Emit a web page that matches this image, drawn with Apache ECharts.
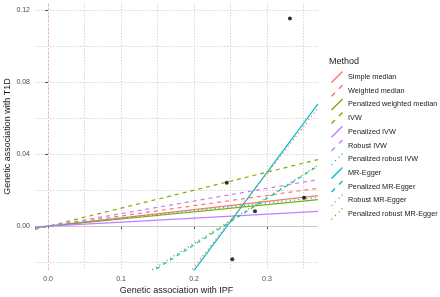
<!DOCTYPE html>
<html>
<head>
<meta charset="utf-8">
<script src="https://cdn.jsdelivr.net/npm/echarts@6/dist/echarts.min.js"></script>
<style>
  html, body { margin: 0; padding: 0; background: #fff; }
</style>
</head>
<body>
<div id="mr" style="width:440px;height:297px;"></div>
<script>
  // methods, line parameters (y = intercept + slope * x)
  var methods = ['Simple median', 'Weighted median', 'Penalized weighted median', 'IVW',
    'Penalized IVW', 'Robust IVW', 'Penalized robust IVW', 'MR-Egger',
    'Penalized MR-Egger', 'Robust MR-Egger', 'Penalized robust MR-Egger']
  var slopes = [0.046, 0.057, 0.040, 0.100, 0.0224, 0.070, 0.043, 0.544, 0.258, 0.520, 0.255]
  var intercepts = [0, 0, 0, 0, 0, 0, 0, -0.1334, -0.062, -0.1268, -0.0605]
  var colors = ['#F8766D', '#F8766D', '#7CAE00', '#7CAE00', '#C77CFF', '#C77CFF', '#00BFC4',
    '#00BFC4', '#00BFC4', '#F8766D', '#7CAE00']
  var styles = ['solid', 'dashed', 'solid', 'dashed', 'solid', 'dashed', 'dotted',
    'solid', 'dashed', 'dotted', 'dotted']

  // SNP associations
  var snpX = [0.3315, 0.245, 0.2836, 0.351, 0.2525]
  var snpY = [0.1153, 0.0241, 0.0083, 0.0158, -0.0184]

  // axes
  var xMin = -0.018, xMax = 0.37
  var yMin = -0.0243, yMax = 0.1239
  var xTicks = [0, 0.1, 0.2, 0.3]
  var xMinor = [0.05, 0.15, 0.25, 0.35]
  var yTicks = [0, 0.04, 0.08, 0.12]
  var yMinor = [-0.02, 0.02, 0.06, 0.10]

  var icons = {
    solid: 'path://M0,11 L11,0 L12,1 L1,12 Z',
    dashed: 'path://M0,11 L3.5,7.5 L4.5,8.5 L1,12 Z M7.5,3.5 L11,0 L12,1 L8.5,4.5 Z',
    dotted: 'path://M0,11 L0.8,10.2 L1.8,11.2 L1,12 Z M3.6,7.4 L4.4,6.6 L5.4,7.6 L4.6,8.4 Z M7.2,3.8 L8,3 L9,4 L8.2,4.8 Z M10.2,0.8 L11,0 L12,1 L11.2,1.8 Z'
  }

  var grid = '#d6d6d6'
  var series = []
  for (let i = 0; i < methods.length; i++) {
    series.push({
      name: methods[i],
      type: 'line',
      clip: true,
      symbol: 'none',
      silent: true,
      color: colors[i],
      lineStyle: { width: 1.2, type: styles[i] === 'dashed' ? [4, 4] : (styles[i] === 'dotted' ? [1.2, 3] : 'solid') },
      data: [[xMin, intercepts[i] + slopes[i] * xMin], [xMax, intercepts[i] + slopes[i] * xMax]]
    })
  }
  var pts = []
  for (let i = 0; i < snpX.length; i++) pts.push([snpX[i], snpY[i]])
  series.unshift({
    name: 'SNP',
    type: 'scatter',
    symbolSize: 4,
    itemStyle: { color: '#000' },
    silent: true,
    z: 5,
    data: pts,
    markLine: {
      silent: true,
      symbol: 'none',
      label: { show: false },
      z: 1,
      data: [
        { xAxis: 0, lineStyle: { color: '#f2b8b5', type: [2, 2], width: 1 } },
        { yAxis: 0, lineStyle: { color: '#c8c8c8', type: 'solid', width: 1 } }
      ]
    }
  })

  var axisText = { fontFamily: 'Liberation Sans', fontSize: 7, color: '#4d4d4d' }
  var chart = echarts.init(document.getElementById('mr'))
  chart.setOption({
    animation: false,
    textStyle: { fontFamily: 'Liberation Sans' },
    grid: { left: 35, right: 122, top: 3, bottom: 27, outerBoundsMode: 'none', containLabel: false },
    title: {
      text: 'Method',
      left: 329, top: 57,
      padding: 0,
      textStyle: { fontSize: 9, fontWeight: 'normal', color: '#1a1a1a', fontFamily: 'Liberation Sans' }
    },
    legend: {
      orient: 'vertical',
      left: 331, top: 71,
      padding: 0,
      itemWidth: 12, itemHeight: 12, itemGap: 1.7,
      textStyle: { fontSize: 7.3, color: '#1a1a1a', fontFamily: 'Liberation Sans' },
      selectedMode: false,
      data: methods.map(function (m, i) { return { name: m, icon: icons[styles[i]] } })
    },
    xAxis: [
      {
        type: 'value', min: xMin, max: xMax,
        name: 'Genetic association with IPF',
        nameLocation: 'middle', nameGap: 16, nameMoveOverlap: false,
        nameTextStyle: { fontSize: 9, color: '#1a1a1a' },
        axisLine: { show: false },
        axisTick: { show: true, length: 3, customValues: xTicks, lineStyle: { color: '#4d4d4d' } },
        axisLabel: Object.assign({ customValues: xTicks, margin: 6, formatter: function (v) { return v.toFixed(1) } }, axisText),
        splitLine: { show: true, lineStyle: { color: grid, type: [1.5, 1.5] } }
      },
      {
        type: 'value', min: xMin, max: xMax, position: 'bottom',
        axisLine: { show: false },
        axisTick: { show: false, customValues: xMinor },
        axisLabel: { show: false, customValues: xMinor },
        splitLine: { show: true, lineStyle: { color: grid, type: [1.5, 1.5] } }
      }
    ],
    yAxis: [
      {
        type: 'value', min: yMin, max: yMax,
        name: 'Genetic association with T1D',
        nameLocation: 'middle', nameGap: 23, nameMoveOverlap: false,
        nameTextStyle: { fontSize: 9, color: '#1a1a1a' },
        axisLine: { show: false },
        axisTick: { show: true, length: 3, customValues: yTicks, lineStyle: { color: '#4d4d4d' } },
        axisLabel: Object.assign({ customValues: yTicks, margin: 5, formatter: function (v) { return v.toFixed(2) } }, axisText),
        splitLine: { show: true, lineStyle: { color: grid, type: [1.5, 1.5] } }
      },
      {
        type: 'value', min: yMin, max: yMax, position: 'left',
        axisLine: { show: false },
        axisTick: { show: false, customValues: yMinor },
        axisLabel: { show: false, customValues: yMinor },
        splitLine: { show: true, lineStyle: { color: grid, type: [1.5, 1.5] } }
      }
    ],
    series: series
  })
</script>
</body>
</html>
